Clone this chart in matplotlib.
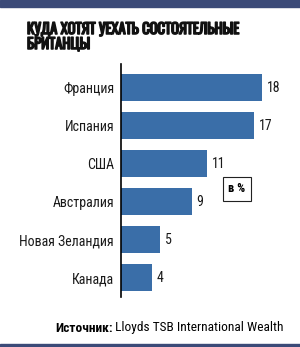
import matplotlib
matplotlib.use("Agg")
import matplotlib.pyplot as plt
from matplotlib.patches import Rectangle
from matplotlib import font_manager
import matplotlib.patheffects as pe

countries = ["Франция", "Испания", "США", "Австралия", "Новая Зеландия", "Канада"]
values = [18, 17, 11, 9, 5, 4]
title = "КУДА ХОТЯТ УЕХАТЬ СОСТОЯТЕЛЬНЫЕ\nБРИТАНЦЫ"
unit_label = "в %"
source_bold = "Источник:"
source_rest = " Lloyds TSB International Wealth"

NAVY = "#3b4a78"
BAR = "#3a6ea8"

installed = {f.name for f in font_manager.fontManager.ttflist}

def pick(cands):
    for c in cands:
        if c in installed:
            return [c, "DejaVu Sans"]
    return ["DejaVu Sans"]

fam = pick(["Roboto Condensed", "PT Sans Narrow", "Fira Sans Condensed",
            "IBM Plex Sans Condensed", "Arial Narrow", "Liberation Sans Narrow"])
tfam = pick(["Oswald", "Roboto Condensed", "PT Sans Narrow", "Fira Sans Condensed"])

fig = plt.figure(figsize=(3.0, 3.47), dpi=100)
W, H = 300, 347

def fx(x): return x / W
def fy(y): return 1 - y / H

fig.patches.append(Rectangle((0, fy(7)), 1, 7 / H, transform=fig.transFigure, color=NAVY))
fig.patches.append(Rectangle((0, 0), 1, 3 / H, transform=fig.transFigure, color=NAVY))

fig.text(fx(27), fy(22), title, ha="left", va="top", fontsize=10.5, fontweight="bold",
         family=tfam, linespacing=1.0, color="#111111",
         path_effects=[pe.withStroke(linewidth=1.1, foreground="#111111")])

ax = fig.add_axes([fx(121), fy(297), 157 / W, (297 - 64) / H])
ypos = list(range(len(countries)))
ax.barh(ypos, values, height=0.71, color=BAR)
ax.set_ylim(5.5, -0.62)
ax.set_xlim(0, 20)
for s in ["top", "right", "bottom"]:
    ax.spines[s].set_visible(False)
ax.spines["left"].set_linewidth(1.2)
ax.set_xticks([])
ax.set_yticks(ypos)
ax.set_yticklabels(countries, family=fam, fontsize=10, color="#1a1a1a")
ax.tick_params(axis="y", length=0, pad=5)
for y, v in zip(ypos, values):
    ax.text(v + 0.6, y, str(v), va="center", ha="left", fontsize=10, family=fam,
            color="#1a1a1a")

fig.text(fx(237), fy(189), unit_label, ha="center", va="center", fontsize=9,
         fontweight="bold", family=fam,
         bbox=dict(boxstyle="square,pad=0.45", fc="white", ec="#222222", lw=0.8))

t1 = fig.text(fx(55), fy(328), source_bold, ha="left", va="center", fontsize=9.6,
              fontweight="bold", family=fam)
fig.canvas.draw()
bb = t1.get_window_extent()
fig.text(bb.x1 / W, fy(328), source_rest, ha="left", va="center", fontsize=9.6, family=fam)

fig.savefig("out.png", dpi=100, facecolor="white")
